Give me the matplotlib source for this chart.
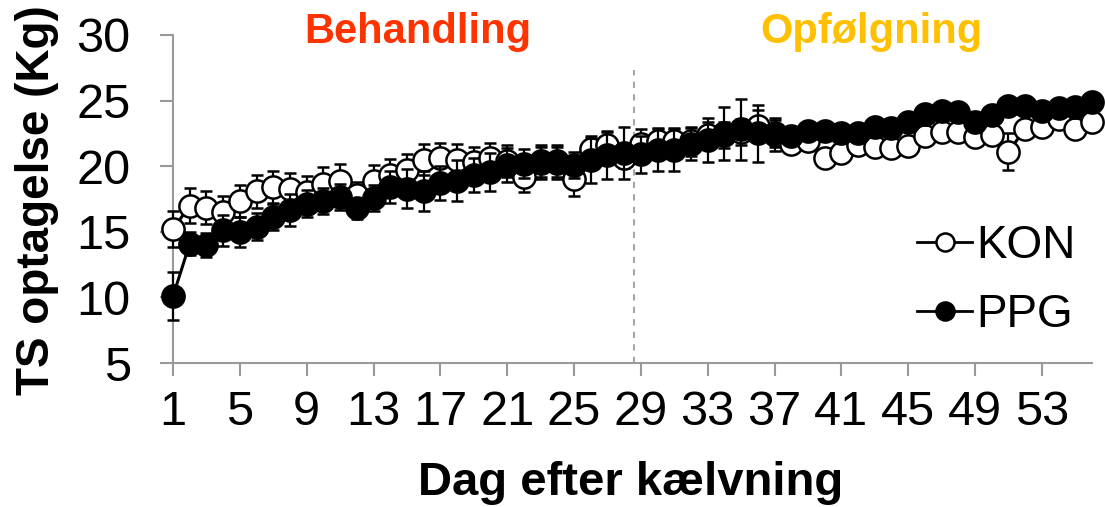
import numpy as np
import matplotlib
matplotlib.use('Agg')
import matplotlib.pyplot as plt
from matplotlib.lines import Line2D

plt.rcParams['font.family'] = ['Liberation Sans', 'DejaVu Sans']

# dag efter kælvning
days = np.arange(1, 57)

kon = [15.2, 17.0, 16.85, 16.5, 17.35, 18.1, 18.4, 18.3, 18.0, 18.65,
       18.9, 17.8, 18.9, 19.3, 19.7, 20.5, 20.6, 20.5, 20.3, 20.6,
       20.4, 19.2, 20.4, 20.4, 19.05, 21.3, 21.6, 20.6, 21.7, 21.9,
       21.9, 21.9, 22.4, 22.4, 22.6, 23.1, 22.4, 21.7, 21.9, 20.6,
       21.0, 21.6, 21.45, 21.4, 21.55, 22.3, 22.6, 22.6, 22.2, 22.4,
       21.1, 22.85, 23.0, 23.6, 22.8, 23.4]
kon_err = [1.35, 1.35, 1.25, 1.25, 1.25, 1.25, 1.2, 1.2, 1.25, 1.3,
           1.25, 1.0, 1.2, 1.25, 1.25, 1.2, 1.2, 1.2, 1.2, 1.15,
           1.2, 1.2, 1.2, 1.25, 1.35, 1.0, 1.0, 0.7, 1.15, 1.0,
           1.0, 1.1, 1.0, 1.0, 1.0, 1.15, 1.27, 0.6, 0.6, 0.6,
           0.6, 0.6, 0.6, 0.6, 0.6, 0.6, 0.6, 0.6, 0.6, 0.6,
           1.4, 0.6, 0.6, 0.6, 0.6, 0.6]

ppg = [10.1, 14.1, 14.0, 15.1, 15.0, 15.4, 16.1, 16.65, 17.15, 17.35,
       17.65, 16.8, 17.55, 18.4, 18.3, 18.1, 18.7, 18.9, 19.3, 19.55,
       20.1, 20.2, 20.25, 20.25, 20.1, 20.45, 20.85, 21.0, 20.9, 21.2,
       21.2, 21.7, 22.0, 22.5, 22.8, 22.5, 22.5, 22.3, 22.7, 22.7,
       22.55, 22.5, 23.0, 22.9, 23.35, 24.0, 24.2, 24.1, 23.4, 23.9,
       24.6, 24.6, 24.2, 24.4, 24.5, 24.9]
ppg_err = [1.8, 0.85, 0.9, 1.15, 1.15, 1.0, 1.0, 1.2, 1.0, 1.0,
           1.0, 0.8, 1.0, 1.2, 1.5, 1.5, 1.3, 1.55, 1.3, 1.45,
           1.3, 1.1, 1.25, 1.2, 1.0, 1.7, 1.8, 2.0, 1.4, 1.6,
           1.6, 1.2, 1.65, 2.0, 2.35, 2.2, 1.0, 0.6, 0.6, 0.6,
           0.6, 0.6, 0.6, 0.6, 0.6, 0.6, 0.6, 0.6, 0.6, 0.6,
           0.6, 0.6, 0.6, 0.6, 0.6, 0.6]

x_ticks = list(range(1, 57, 4))
y_ticks = [5, 10, 15, 20, 25, 30]
split_day = 28.6

fig = plt.figure(figsize=(11.05, 5.07), dpi=100)
ax = fig.add_axes([0.1566, 0.284, 0.8316, 0.647])

grey = '#9a9a9a'
ax.plot([split_day, split_day], [5, 27.3], ls=(0, (3, 3)), color='#a6a6a6', lw=1.5, zorder=1)

ax.errorbar(days, kon, yerr=kon_err, color='black', lw=2.2, marker='o', ms=16,
            mfc='white', mec='black', mew=1.8, ecolor='black', elinewidth=1.6,
            capsize=4, capthick=1.6, zorder=3, clip_on=False)
ax.errorbar(days, ppg, yerr=ppg_err, color='black', lw=2.2, marker='o', ms=16,
            mfc='black', mec='black', mew=1.8, ecolor='black', elinewidth=1.6,
            capsize=4, capthick=1.6, zorder=4, clip_on=False)

ax.set_xlim(1, 56)
ax.set_ylim(5, 30)
ax.set_xticks(x_ticks)
ax.set_yticks(y_ticks)
for s in ['top', 'right']:
    ax.spines[s].set_visible(False)
for s in ['left', 'bottom']:
    ax.spines[s].set_color(grey)
    ax.spines[s].set_linewidth(1.5)
ax.tick_params(axis='both', length=9.5, width=1.5, color=grey, labelsize=35)
ax.tick_params(axis='y', pad=21)
ax.tick_params(axis='x', pad=10)

fig.text(631 / 1105, 1 - 495 / 507, 'Dag efter kælvning', fontsize=34, fontweight='bold',
         ha='center', va='baseline')
fig.text(37 / 1105, 1 - 200 / 507, 'TS optagelse (Kg)', fontsize=33, fontweight='bold',
         ha='center', va='center', rotation=90)
fig.text(418 / 1105, 1 - 43 / 507, 'Behandling', fontsize=30, fontweight='bold',
         color='#ff3300', ha='center', va='baseline')
fig.text(871 / 1105, 1 - 43 / 507, 'Opfølgning', fontsize=30, fontweight='bold',
         color='#ffc000', ha='center', va='baseline')

handles = [
    Line2D([], [], color='black', lw=2, marker='o', ms=13, mfc='white', mec='black', mew=1.8),
    Line2D([], [], color='black', lw=2, marker='o', ms=13, mfc='black', mec='black', mew=1.8),
]
ax.legend(handles, ['KON', 'PPG'], loc='upper left', bbox_to_anchor=(917 / 1105, 1 - 224 / 507),
          bbox_transform=fig.transFigure, frameon=False, fontsize=33, handlelength=1.2,
          handletextpad=0.1, labelspacing=0.55, borderpad=0, borderaxespad=0)

fig.savefig('out.png', dpi=100)
